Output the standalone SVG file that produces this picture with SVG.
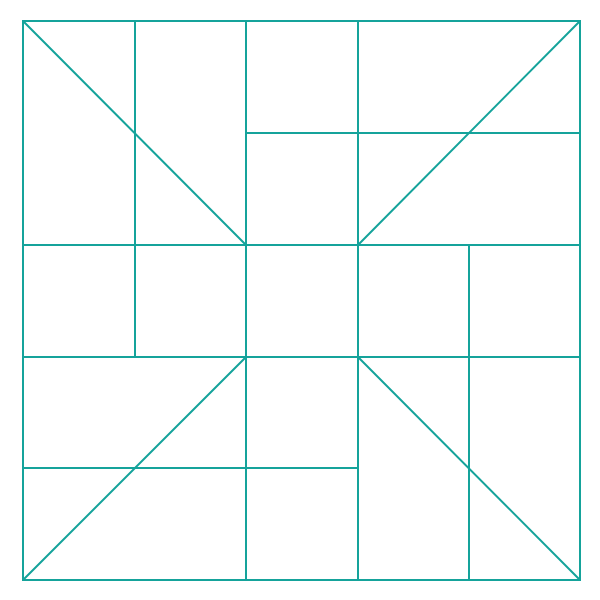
<svg xmlns="http://www.w3.org/2000/svg" width="600" height="600" viewBox="0 0 600 600">
<style>
.s{fill:none;stroke:#15a39b;stroke-width:2;stroke-linecap:round}
</style>
<rect width="600" height="600" fill="#ffffff"/>
<g class="s">
<rect x="23" y="21" width="557" height="559"/>
<line x1="23" y1="245" x2="580" y2="245"/>
<line x1="23" y1="357" x2="580" y2="357"/>
<line x1="246" y1="21" x2="246" y2="580"/>
<line x1="358" y1="21" x2="358" y2="580"/>
<line x1="135" y1="21" x2="135" y2="357"/>
<line x1="246" y1="133" x2="580" y2="133"/>
<line x1="469" y1="245" x2="469" y2="580"/>
<line x1="23" y1="468" x2="358" y2="468"/>
<line x1="23" y1="21" x2="246" y2="245"/>
<line x1="580" y1="21" x2="358" y2="245"/>
<line x1="246" y1="357" x2="23" y2="580"/>
<line x1="358" y1="357" x2="580" y2="580"/>
</g>
</svg>
